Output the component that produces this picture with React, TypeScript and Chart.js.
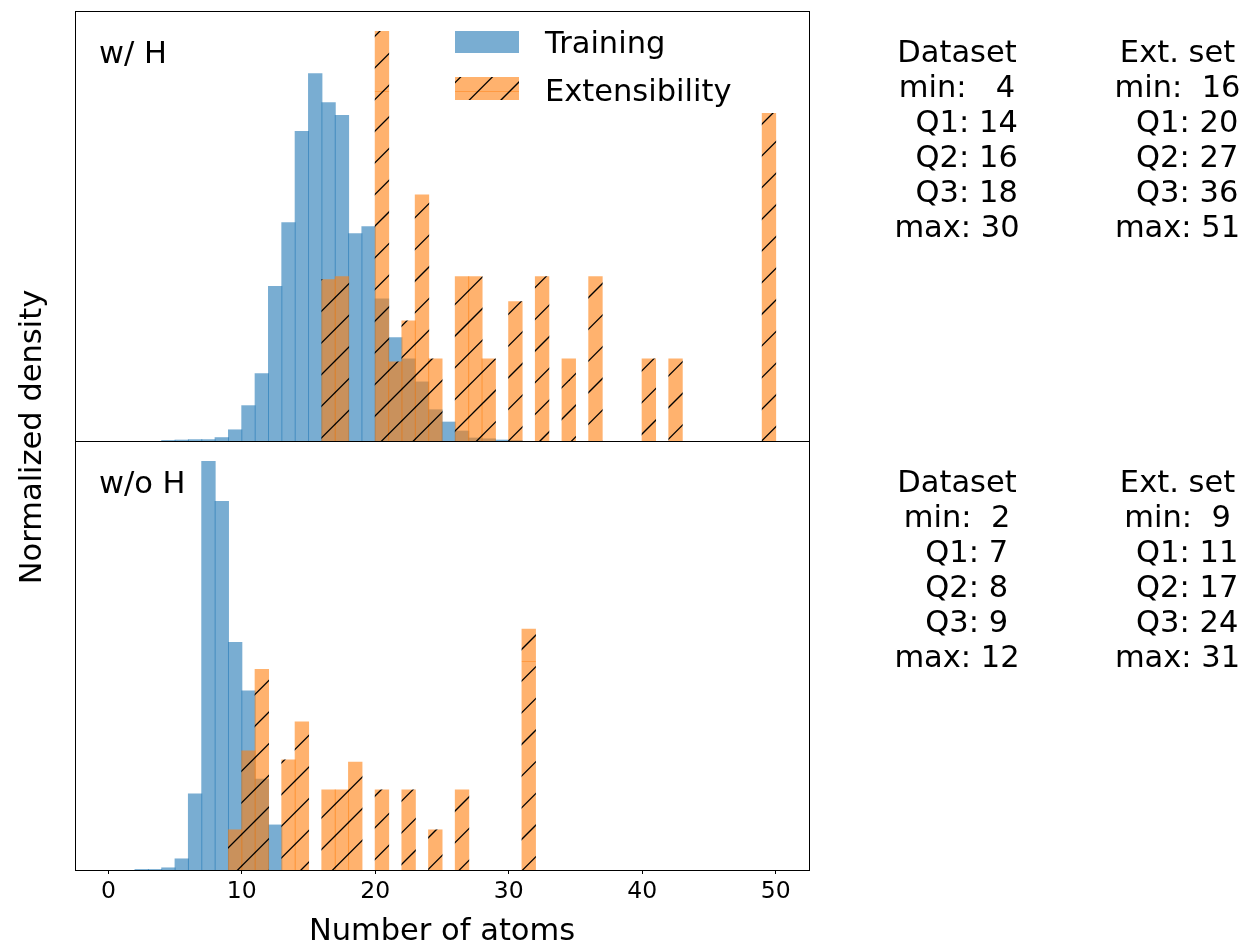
import React, { useEffect, useRef } from "react";
import { Chart, registerables } from "chart.js";

Chart.register(...registerables);

// ---------------- data ----------------
const xTickValues = [0, 10, 20, 30, 40, 50];
const seriesNames = ["Training", "Extensibility"];
const panelLabels = ["w/ H", "w/o H"];
const xAxisTitle = "Number of atoms";
const yAxisTitle = "Normalized density";

// bin start (number of atoms) -> normalized density, panel "w/ H"
const withHTrainingBins = [4, 5, 6, 7, 8, 9, 10, 11, 12, 13, 14, 15, 16, 17, 18, 19, 20, 21, 22, 23, 24, 25, 26, 27, 28, 29, 30];
const withHTrainingDensity = [0.001, 0.002, 0.003, 0.003, 0.008, 0.027, 0.086, 0.164, 0.377, 0.533, 0.756, 0.897, 0.826, 0.795, 0.506, 0.523, 0.347, 0.252, 0.2, 0.144, 0.076, 0.046, 0.024, 0.007, 0.005, 0.002, 0.001];
const withHExtBins = [16, 17, 20, 21, 22, 23, 24, 26, 27, 28, 30, 32, 34, 36, 40, 42, 49];
const withHExtDensity = [0.394, 0.401, 1.0, 0.193, 0.293, 0.601, 0.2, 0.401, 0.401, 0.2, 0.34, 0.401, 0.2, 0.401, 0.2, 0.2, 0.8];

// panel "w/o H"
const withoutHTrainingBins = [2, 3, 4, 5, 6, 7, 8, 9, 10, 11, 12];
const withoutHTrainingDensity = [0.001, 0.001, 0.005, 0.027, 0.186, 1.0, 0.902, 0.557, 0.438, 0.222, 0.11];
const withoutHExtBins = [9, 10, 11, 13, 14, 16, 17, 18, 20, 22, 24, 26, 31];
const withoutHExtDensity = [0.098, 0.291, 0.491, 0.269, 0.362, 0.196, 0.196, 0.264, 0.196, 0.196, 0.098, 0.196, 0.589];

// summary statistics text
const withHDatasetStats = ["Dataset", "min:   4", "  Q1: 14", "  Q2: 16", "  Q3: 18", "max: 30"];
const withHExtStats = ["Ext. set", "min:  16", "  Q1: 20", "  Q2: 27", "  Q3: 36", "max: 51"];
const withoutHDatasetStats = ["Dataset", "min:  2", "  Q1: 7", "  Q2: 8", "  Q3: 9", "max: 12"];
const withoutHExtStats = ["Ext. set", "min:  9", "  Q1: 11", "  Q2: 17", "  Q3: 24", "max: 31"];

const BIN_WIDTH = 1;
const X_MIN = -2.5;
const X_MAX = 52.5;

// ---------------- layout / style ----------------
const W = 1247;
const H = 947;
const PLOT_LEFT = 75;
const PLOT_RIGHT = 809;
const PANEL_TOP = [11, 441];
const PANEL_BOTTOM = [441, 870];
const FONT = "'DejaVu Sans', sans-serif";
const BIG = 30.5;
const TICK = 23.5;
const BLUE_FILL = "rgba(31,119,180,0.6)";
const ORANGE_FILL = "rgba(255,127,14,0.6)";
const HATCH_TILE = 570;
const HATCH_LINES = 18;
const HATCH_PHASE = 31;

Chart.defaults.font.family = FONT;
Chart.defaults.color = "#000";

function makeHatch(ctx: CanvasRenderingContext2D) {
  const tile = document.createElement("canvas");
  tile.width = HATCH_TILE;
  tile.height = HATCH_TILE;
  const t = tile.getContext("2d")!;
  t.fillStyle = ORANGE_FILL;
  t.fillRect(0, 0, HATCH_TILE, HATCH_TILE);
  t.fillStyle = "rgba(255,127,14,0.45)";
  t.fillRect(0, 91, HATCH_TILE, 1);
  t.strokeStyle = "#000";
  t.lineWidth = 1.3;
  const step = HATCH_TILE / HATCH_LINES;
  for (let k = -2; k <= 2 * HATCH_LINES + 2; k++) {
    const c = HATCH_PHASE + k * step;
    t.beginPath();
    t.moveTo(c + 5, -5);
    t.lineTo(c - HATCH_TILE - 5, HATCH_TILE + 5);
    t.stroke();
  }
  return ctx.createPattern(tile, "repeat")!;
}

const framePlugin = {
  id: "frame",
  afterDraw(chart: any) {
    const { ctx, chartArea: a } = chart;
    ctx.save();
    ctx.strokeStyle = "#000";
    ctx.lineWidth = 1;
    const l = Math.floor(a.left) + 0.5;
    const t = Math.floor(a.top) + 0.5;
    const r = Math.floor(a.right) + 0.5;
    const b = Math.floor(a.bottom) + 0.5;
    ctx.strokeRect(l, t, r - l, b - t);
    ctx.restore();
  },
};

function drawStats(ctx: CanvasRenderingContext2D, lines: string[], cx: number, firstBaseline: number) {
  ctx.textAlign = "center";
  lines.forEach((s, i) => ctx.fillText(s, cx, firstBaseline + i * 35));
}

function makeTextPlugin(panel: number, pattern: CanvasPattern) {
  return {
    id: "panelText" + panel,
    afterDraw(chart: any) {
      const { ctx, chartArea: a } = chart;
      ctx.save();
      ctx.fillStyle = "#000";
      ctx.font = `${BIG}px ${FONT}`;
      ctx.textBaseline = "alphabetic";
      ctx.textAlign = "left";
      ctx.fillText(panelLabels[panel], a.left + 24, a.top + 52);

      const stats = panel === 0 ? [withHDatasetStats, withHExtStats] : [withoutHDatasetStats, withoutHExtStats];
      drawStats(ctx, stats[0], 957, a.top + 51);
      drawStats(ctx, stats[1], 1177.5, a.top + 51);

      if (panel === 0) {
        // legend
        ctx.fillStyle = BLUE_FILL;
        ctx.fillRect(455, 31, 64, 22);
        ctx.fillStyle = pattern;
        ctx.fillRect(455, 77, 64, 23);
        ctx.fillStyle = "#000";
        ctx.textAlign = "left";
        ctx.fillText(seriesNames[0], 545, 52.5);
        ctx.fillText(seriesNames[1], 545, 100.5);
      } else {
        ctx.translate(41, 437);
        ctx.rotate(-Math.PI / 2);
        ctx.textAlign = "center";
        ctx.fillText(yAxisTitle, 0, 0);
      }
      ctx.restore();
    },
  };
}

function buildConfig(panel: number, pattern: CanvasPattern): any {
  const trainBins = panel === 0 ? withHTrainingBins : withoutHTrainingBins;
  const trainVals = panel === 0 ? withHTrainingDensity : withoutHTrainingDensity;
  const extBins = panel === 0 ? withHExtBins : withoutHExtBins;
  const extVals = panel === 0 ? withHExtDensity : withoutHExtDensity;
  const yMax = 1.05 * Math.max(...trainVals, ...extVals);
  const isBottom = panel === 1;

  const setTicks = (scale: any) => {
    scale.ticks = xTickValues.map((v) => ({ value: v }));
  };

  return {
    type: "bar",
    data: {
      datasets: [
        {
          label: seriesNames[1],
          data: extBins.map((b, k) => ({ x: b + BIN_WIDTH / 2, y: extVals[k] })),
          backgroundColor: pattern,
          borderWidth: 0,
          inflateAmount: 0.5,
          order: 0,
        },
        {
          label: seriesNames[0],
          data: trainBins.map((b, k) => ({ x: b + BIN_WIDTH / 2, y: trainVals[k] })),
          backgroundColor: BLUE_FILL,
          borderWidth: 0,
          inflateAmount: 0.5,
          order: 1,
        },
      ],
    },
    options: {
      responsive: false,
      animation: false,
      events: [],
      layout: {
        padding: {
          left: PLOT_LEFT,
          right: W - PLOT_RIGHT,
          top: PANEL_TOP[panel],
          bottom: isBottom ? 0 : H - PANEL_BOTTOM[panel],
        },
      },
      datasets: { bar: { grouped: false, barPercentage: 1, categoryPercentage: 1 } },
      plugins: { legend: { display: false }, tooltip: { enabled: false } },
      scales: {
        x: {
          type: "linear",
          min: X_MIN,
          max: X_MAX,
          offset: false,
          display: isBottom,
          afterBuildTicks: setTicks,
          afterFit: (scale: any) => {
            if (isBottom) scale.height = H - PANEL_BOTTOM[1];
          },
          ticks: {
            font: { size: TICK, lineHeight: 1 },
            color: "#000",
            padding: 6,
            maxRotation: 0,
            autoSkip: false,
          },
          grid: {
            display: true,
            offset: false,
            drawOnChartArea: false,
            drawTicks: true,
            tickLength: 4,
            color: "#000",
            lineWidth: 1,
          },
          border: { display: false },
          title: {
            display: true,
            text: xAxisTitle,
            color: "#000",
            font: { size: BIG, lineHeight: 1 },
            padding: { top: 0, bottom: 0 },
          },
        },
        y: { min: 0, max: yMax, display: false },
      },
    },
    plugins: [framePlugin, makeTextPlugin(panel, pattern)],
  };
}

export default function App() {
  const topRef = useRef<HTMLCanvasElement>(null);
  const botRef = useRef<HTMLCanvasElement>(null);

  useEffect(() => {
    const topCanvas = topRef.current!;
    const botCanvas = botRef.current!;
    const p1 = makeHatch(topCanvas.getContext("2d")!);
    const p2 = makeHatch(botCanvas.getContext("2d")!);
    const c1 = new Chart(topCanvas, buildConfig(0, p1));
    const c2 = new Chart(botCanvas, buildConfig(1, p2));
    return () => {
      c1.destroy();
      c2.destroy();
    };
  }, []);

  return (
    <div style={{ position: "fixed", left: 0, top: 0, width: W, height: H, background: "#fff" }}>
      <canvas ref={topRef} width={W} height={H} style={{ position: "absolute", left: 0, top: 0 }} />
      <canvas ref={botRef} width={W} height={H} style={{ position: "absolute", left: 0, top: 0 }} />
    </div>
  );
}
